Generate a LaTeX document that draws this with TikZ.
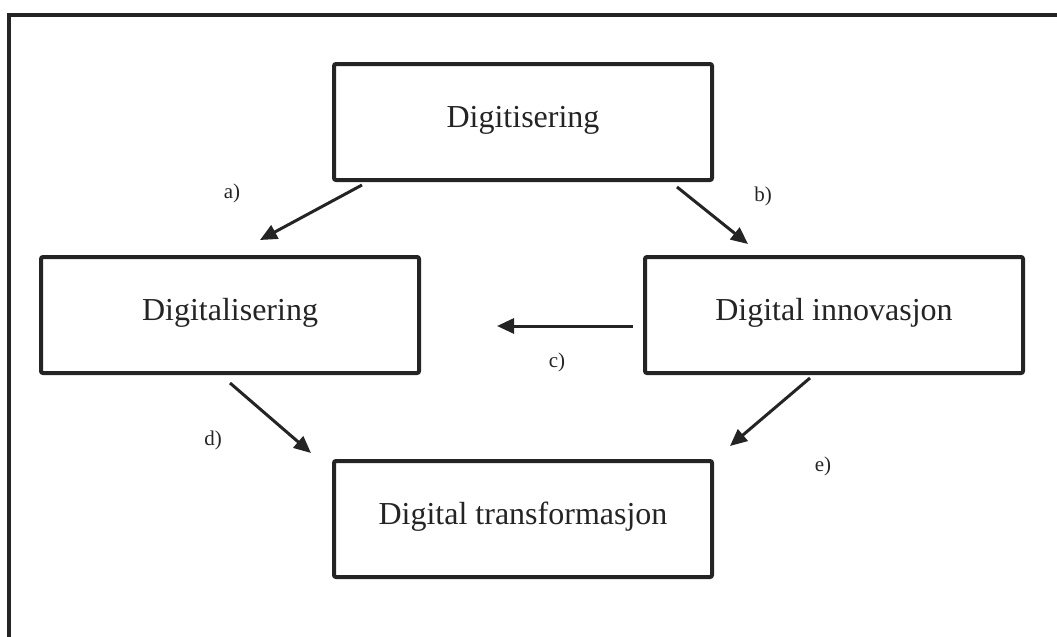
\documentclass[tikz,border=0pt]{standalone}
\usepackage{fontspec}
\setmainfont{Liberation Serif}
\usetikzlibrary{arrows.meta,positioning}

\tikzstyle{block} = [draw, rectangle, minimum height=58pt, minimum width=189pt,
                     line width=2pt, rounded corners=1pt, text depth=0.55em,
                     font=\fontsize{16}{19}\selectfont]
\tikzstyle{tag} = [font=\fontsize{10.5}{12}\selectfont]

\begin{document}
\begin{tikzpicture} [x=0.5pt, y=-0.5pt, >={Triangle[length=8.5pt,width=7.5pt]}]

\def\colL{black!86};

\useasboundingbox (0,0) rectangle (1057,637);

% outer frame
\draw[\colL, line width=2pt]
     (8.5,700) -- (8.5,14.5) -- (1100,14.5);

\node[block,draw=\colL,text=\colL]
      at (523,122)
      (digi) {Digitisering};

\node[block,draw=\colL,text=\colL]
      at (230,315)
      (dlis) {Digitalisering};

\node[block,draw=\colL,text=\colL]
      at (834,315)
      (inno) {Digital innovasjon};

\node[block,draw=\colL,text=\colL,
      below of=digi,node distance=198.5pt]
      (trans) {Digital transformasjon};

% arrow ends
\coordinate (a0) at (362,185);
\coordinate (a1) at (260,240);
\coordinate (b0) at (677,187);
\coordinate (b1) at (748,244);
\coordinate (c0) at (633,326);
\coordinate (c1) at (497,326);
\coordinate (d0) at (230,383);
\coordinate (d1) at (311,453);
\coordinate (e0) at (810,378);
\coordinate (e1) at (730,446);

\draw[->,\colL,line width=1.5pt]
     (a0) -- (a1);

\draw[->,\colL,line width=1.5pt]
     (b0) -- (b1);

\draw[->,\colL,line width=1.5pt]
     (c0) -- (c1);

\draw[->,\colL,line width=1.5pt]
     (d0) -- (d1);

\draw[->,\colL,line width=1.5pt]
     (e0) -- (e1);

\node[tag,\colL] at (232,193) (la) {a)};
\node[tag,\colL] at (763,196) (lb) {b)};
\node[tag,\colL] at (557,362) (lc) {c)};
\node[tag,\colL] at (213,440) (ld) {d)};
\node[tag,\colL] at (823,466) (le) {e)};

\end{tikzpicture}
\end{document}
